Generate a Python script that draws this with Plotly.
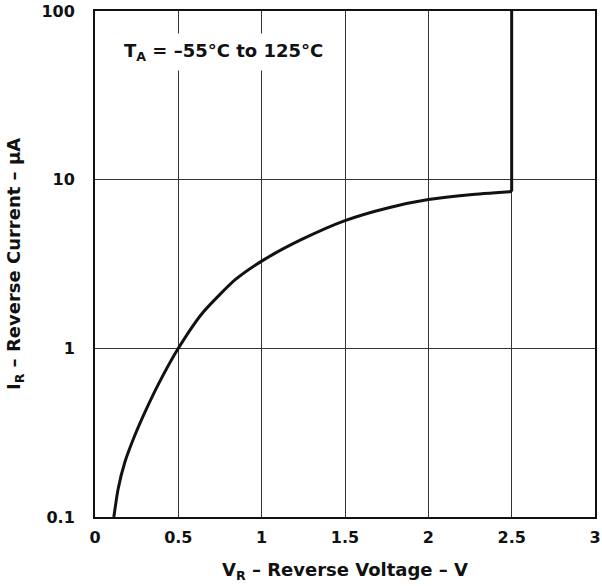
import plotly.graph_objects as go

# Reverse voltage (V) and reverse current (uA)
vr = [0.113, 0.139, 0.179, 0.238, 0.308, 0.383, 0.5, 0.645, 0.843, 1.0, 1.24, 1.5, 1.756, 2.0, 2.25, 2.5]
ir = [0.1, 0.147, 0.211, 0.303, 0.436, 0.62, 1.0, 1.62, 2.56, 3.29, 4.42, 5.72, 6.8, 7.62, 8.15, 8.5]
# breakdown step at 2.5 V
vr_step = [2.5, 2.5]
ir_step = [8.5, 100]

x_ticks = [0, 0.5, 1, 1.5, 2, 2.5, 3]
x_labels = ["0", "0.5", "1", "1.5", "2", "2.5", "3"]
y_ticks = [0.1, 1, 10, 100]
y_labels = ["0.1", "1", "10", "100"]

FONT = "DejaVu Sans, Arial, sans-serif"

fig = go.Figure()
fig.add_trace(go.Scatter(x=vr, y=ir, mode="lines",
                         line=dict(color="#111111", width=3, shape="spline", smoothing=0.6),
                         showlegend=False))
fig.add_trace(go.Scatter(x=vr_step, y=ir_step, mode="lines",
                         line=dict(color="#111111", width=3),
                         showlegend=False))

fig.update_layout(
    width=602, height=586,
    margin=dict(l=95, r=1, t=11, b=69),
    plot_bgcolor="white", paper_bgcolor="white",
    font=dict(family=FONT, size=16, color="#111111"),
    xaxis=dict(range=[0, 3], tickvals=x_ticks, ticktext=x_labels,
               showgrid=True, gridcolor="#333333", gridwidth=1,
               showline=True, linecolor="#111111", linewidth=2, mirror=True,
               ticks="", ticklabelstandoff=5, zeroline=False,
               ticklabeloverflow="allow",
               tickfont=dict(family=FONT, size=16, weight="bold"),
               title=dict(text="<b>V<sub>R</sub> – Reverse Voltage – V</b>",
                          font=dict(family=FONT, size=18), standoff=17)),
    yaxis=dict(type="log", range=[-1, 2], tickvals=y_ticks, ticktext=y_labels,
               showgrid=True, gridcolor="#333333", gridwidth=1,
               showline=True, linecolor="#111111", linewidth=2, mirror=True,
               ticks="", ticklabelstandoff=15, zeroline=False,
               ticklabeloverflow="allow",
               tickfont=dict(family=FONT, size=16, weight="bold"),
               title=dict(text="<b>I<sub>R</sub> – Reverse Current – μA</b>",
                          font=dict(family=FONT, size=18), standoff=16)),
    annotations=[dict(
        text="<b>T<sub>A</sub> = –55°C to 125°C</b>",
        xref="paper", yref="paper", x=0.043, y=0.919, xanchor="left", yanchor="middle",
        showarrow=False, bgcolor="white", borderpad=6,
        font=dict(family=FONT, size=18, color="#111111"))],
)

fig.write_html("out.html", config={"displayModeBar": False},
               post_script="document.body.style.margin='0';")
